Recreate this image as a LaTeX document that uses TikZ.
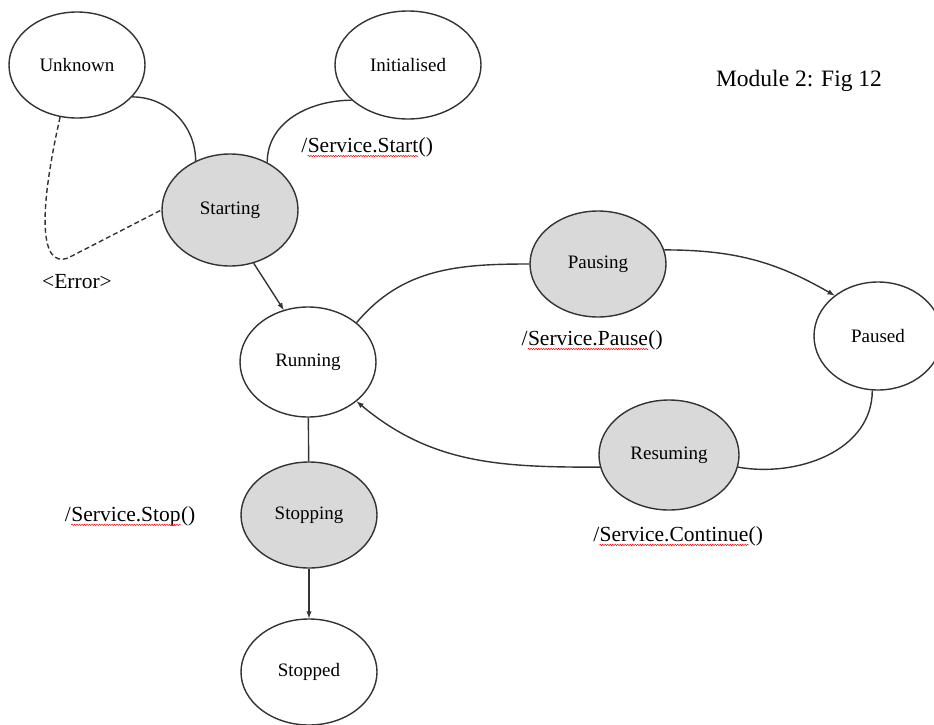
\documentclass[tikz,border=0pt]{standalone}
\usepackage{fontspec}
\setmainfont{Liberation Serif}
\usetikzlibrary{shapes.geometric,decorations.pathmorphing}

\begin{document}
\begin{tikzpicture}[x=1pt, y=1pt,
  state/.style = {ellipse, draw=black!80, line width=1.4pt, fill=white,
    inner sep=0pt, font=\fontsize{19}{22}\selectfont},
  busy/.style = {state, fill=black!15},
  lbl/.style = {inner sep=0pt, font=\fontsize{21.5}{25}\selectfont},
  conn/.style = {draw=black!80, line width=1.4pt},
  arr/.style = {conn, -latex},
  wave/.style = {red, line width=0.5pt, decorate,
    decoration={snake, amplitude=0.7pt, segment length=2.5pt}}
  ]
  \useasboundingbox (0,0) rectangle (934,-725);

  \node (unknown)  [state, minimum width=136, minimum height=106] at (77,-65)   {Unknown};
  \node (init)     [state, minimum width=146, minimum height=108] at (408,-65)  {Initialised};
  \node (starting) [busy,  minimum width=136, minimum height=112] at (230,-210) {Starting};
  \node (running)  [state, minimum width=136, minimum height=110] at (308,-362) {Running};
  \node (pausing)  [busy,  minimum width=136, minimum height=106] at (598,-264) {Pausing};
  \node (paused)   [state, minimum width=128, minimum height=108] at (878,-336) {Paused};
  \node (resuming) [busy,  minimum width=140, minimum height=110] at (669,-455) {Resuming};
  \node (stopping) [busy,  minimum width=136, minimum height=106] at (309,-515) {Stopping};
  \node (stopped)  [state, minimum width=136, minimum height=106] at (309,-672) {Stopped};

  \node (errlbl) [lbl] at (77,-282) {<Error>};
  \node (title) [inner sep=0pt, font=\fontsize{23.5}{28}\selectfont] at (799,-81) {Module 2: Fig 12};

  % labels: slash, method name (underlined), brackets
  \node (startw) [lbl] at (363,-146) {Service.Start};
  \node (startsl) [lbl, anchor=base east] at (startw.base west) {/};
  \node (startbr) [lbl, anchor=base west] at (startw.base east) {()};
  \node (pausew) [lbl] at (588,-339) {Service.Pause};
  \node (pausesl) [lbl, anchor=base east] at (pausew.base west) {/};
  \node (pausebr) [lbl, anchor=base west] at (pausew.base east) {()};
  \node (contw) [lbl] at (674,-535) {Service.Continue};
  \node (contsl) [lbl, anchor=base east] at (contw.base west) {/};
  \node (contbr) [lbl, anchor=base west] at (contw.base east) {()};
  \node (stopw) [lbl] at (126,-517) {Service.Stop};
  \node (stopsl) [lbl, anchor=base east] at (stopw.base west) {/};
  \node (stopbr) [lbl, anchor=base west] at (stopw.base east) {()};

  \draw[wave] ([yshift=-3pt]startw.base west) -- ([yshift=-3pt]startw.base east);
  \draw[wave] ([yshift=-3pt]pausew.base west) -- ([yshift=-3pt]pausew.base east);
  \draw[wave] ([yshift=-3pt]contw.base west) -- ([yshift=-3pt]contw.base east);
  \draw[wave] ([yshift=-3pt]stopw.base west) -- ([yshift=-3pt]stopw.base east);

  \draw[conn] (unknown.-30) to[out=0,in=90] (starting.125);
  \draw[conn] (init.-148) to[out=180,in=90] (starting.52);
  \draw[conn, dash pattern=on 5pt off 3pt] (unknown.-108)
    .. controls (38,-215) and (40,-268) .. (68,-258) -- (starting.180);
  \draw[arr] (starting.-66) -- (running.115);
  \draw[conn] (running.39) to[out=50,in=180] (pausing.180);
  \draw[arr] (pausing.12) to[out=0,in=150] (paused.137);
  \draw[conn] (paused.-96) to[out=-90,in=-10] (resuming.-10);
  \draw[arr] (resuming.-170) to[out=180,in=-40] (running.-39);
  \draw[conn] (running) -- (stopping);
  \draw[arr] (stopping) -- (stopped);
\end{tikzpicture}
\end{document}
